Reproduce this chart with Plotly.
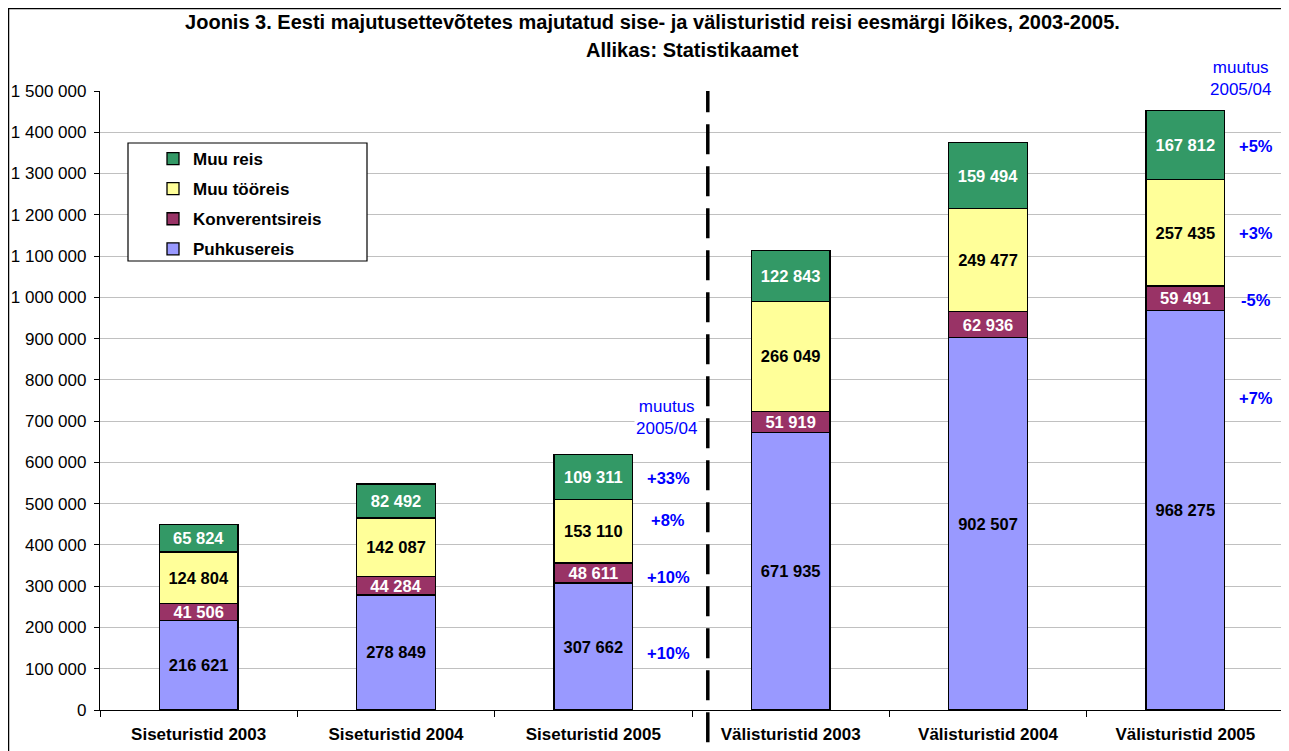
import plotly.graph_objects as go

categories = ["Siseturistid 2003", "Siseturistid 2004", "Siseturistid 2005",
              "Välisturistid 2003", "Välisturistid 2004", "Välisturistid 2005"]
puhkusereis = [216621, 278849, 307662, 671935, 902507, 968275]
konverentsireis = [41506, 44284, 48611, 51919, 62936, 59491]
muu_tooreis = [124804, 142087, 153110, 266049, 249477, 257435]
muu_reis = [65824, 82492, 109311, 122843, 159494, 167812]

change_sise = ["+33%", "+8%", "+10%", "+10%"]
change_valis = ["+5%", "+3%", "-5%", "+7%"]

# label positions (in data units) for the change annotations
pos_sise_y = [562000, 460000, 322000, 138000]
pos_valis_y = [1366000, 1156000, 993000, 756000]

FONT = "Liberation Sans, Arial, Helvetica, sans-serif"

series = [
    ("Puhkusereis", puhkusereis, "#9999FF", "black", 4),
    ("Konverentsireis", konverentsireis, "#993366", "white", 3),
    ("Muu tööreis", muu_tooreis, "#FFFF99", "black", 2),
    ("Muu reis", muu_reis, "#339966", "white", 1),
]

fig = go.Figure()
for name, vals, color, tcolor, rank in series:
    fig.add_trace(go.Bar(
        x=categories, y=vals, name=name, legendgroup=name, legendrank=rank,
        marker=dict(color=color, line=dict(color="black", width=1.3)),
        width=0.4,
        texttemplate="<b>%{y:,d}</b>", textposition="inside",
        insidetextanchor="middle", textangle=0, constraintext="none",
        textfont=dict(family=FONT, size=16.5, color=tcolor),
    ))

annotations = []
for t, yv in zip(change_sise, pos_sise_y):
    annotations.append(dict(x=2.38, y=yv, xref="x", yref="y", text="<b>%s</b>" % t,
                            showarrow=False, font=dict(family=FONT, size=16.5, color="#0000FF")))
for t, yv in zip(change_valis, pos_valis_y):
    annotations.append(dict(x=5.36, y=yv, xref="x", yref="y", text="<b>%s</b>" % t,
                            showarrow=False, font=dict(family=FONT, size=16.5, color="#0000FF")))
annotations.append(dict(x=2.37, y=710000, xref="x", yref="y", text="muutus<br>2005/04",
                        showarrow=False, bgcolor="white",
                        font=dict(family=FONT, size=17, color="#0000FF")))
annotations.append(dict(x=5.28, y=(710 - 79) / 619, xref="x", yref="paper", yanchor="middle",
                        text="muutus<br>2005/04", showarrow=False, bgcolor="white",
                        font=dict(family=FONT, size=17, color="#0000FF")))
annotations.append(dict(x=0.5, y=(710 - 50) / 619, xref="paper", yref="paper",
                        text="<b>Allikas: Statistikaamet</b>", showarrow=False,
                        yanchor="middle", font=dict(family=FONT, size=20, color="black")))

shapes = [
    # outer chart border
    dict(type="rect", xref="paper", yref="paper", x0=(0.5 - 92) / 1184, x1=1.0,
         y0=-0.2, y1=(702 - 0.5) / 619, line=dict(color="black", width=1.5), layer="below"),
    # legend box
    dict(type="rect", xref="paper", yref="paper", x0=28 / 1184, x1=267 / 1184,
         y0=(710 - 261) / 619, y1=(710 - 143) / 619, fillcolor="white",
         line=dict(color="black", width=1.2), layer="above"),
    # dashed separator
    dict(type="line", xref="x", yref="paper", x0=2.58, x1=2.58, y0=-0.12, y1=1.0,
         line=dict(color="black", width=3.5, dash="30px,12px"), layer="above"),
]

fig.update_layout(
    width=1289, height=751, autosize=False,
    margin=dict(l=92, r=13, t=83, b=49, autoexpand=False),
    barmode="stack",
    separators=". ",
    paper_bgcolor="white", plot_bgcolor="white",
    font=dict(family=FONT, size=17, color="black"),
    title=dict(text="<b>Joonis 3. Eesti majutusettevõtetes majutatud sise- ja välisturistid reisi eesmärgi lõikes, 2003-2005.</b>",
               x=0.5, xanchor="center", y=1 - 14 / 751, yanchor="middle",
               yref="container", font=dict(family=FONT, size=20, color="black")),
    xaxis=dict(type="category", showline=True, linecolor="black", linewidth=1.3,
               ticks="outside", tickson="boundaries", ticklen=6, tickcolor="black",
               showgrid=False, tickfont=dict(family=FONT, size=17, weight="bold"),
               ticklabelstandoff=8, range=[-0.5, 5.5], automargin=False),
    yaxis=dict(range=[0, 1500000], dtick=100000, tickformat=",d",
               showline=True, linecolor="black", linewidth=1.3,
               ticks="outside", ticklen=5, tickcolor="black",
               gridcolor="#c0c0c0", gridwidth=1, zeroline=False,
               ticklabelstandoff=4, automargin=False,
               tickfont=dict(family=FONT, size=17)),
    legend=dict(x=53 / 1184, y=(710 - 141) / 619, xanchor="left", yanchor="top",
                bgcolor="rgba(0,0,0,0)", borderwidth=0,
                traceorder="grouped", tracegroupgap=5,
                font=dict(family=FONT, size=17, weight="bold")),
    annotations=annotations,
    shapes=shapes,
    bargap=0.6,
)

fig.write_html("out.html")
